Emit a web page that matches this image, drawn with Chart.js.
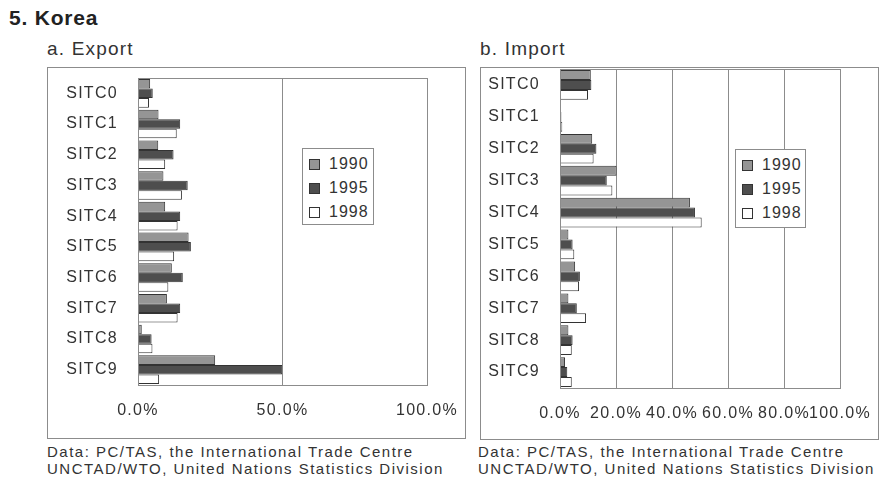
<!DOCTYPE html>
<html>
<head>
    <title>Korea SITC</title>
    <script src="https://cdn.jsdelivr.net/npm/chart.js"></script>
    <style>
        body { margin: 0; background: #fff; font-family: "Liberation Sans", Arial, sans-serif; color: #222; }
        #page { position: relative; width: 882px; height: 488px; overflow: hidden; }
        .title { position: absolute; left: 9px; top: 6px; font-size: 21px; font-weight: bold; letter-spacing: 0.8px; }
        .sub { position: absolute; top: 38px; font-size: 19px; letter-spacing: 1.2px; color: #333; }
        .frame { position: absolute; border: 1px solid #8c8c8c; box-sizing: border-box; }
        .panel { position: absolute; }
        .legend { position: absolute; background: #fff; border: 1px solid #8c8c8c; box-sizing: border-box; padding-top: 3px; }
        .legend div { height: 24px; line-height: 24px; font-size: 16px; letter-spacing: 1px; color: #333; white-space: nowrap; }
        .legend span { display: inline-block; width: 9px; height: 9px; border: 1px solid #333; margin: 0 9px 0 6px; vertical-align: -1px; }
        .note { position: absolute; top: 443px; font-size: 15px; line-height: 17px; letter-spacing: 1.5px; color: #333; white-space: nowrap; }
    </style>
</head>
<body>
<div id="page">
    <div class="title">5. Korea</div>
    <div class="sub" style="left:47px">a. Export</div>
    <div class="sub" style="left:480px">b. Import</div>

    <div class="frame" style="left:47px; top:67px; width:419px; height:372px"></div>
    <div class="frame" style="left:480px; top:67px; width:399px; height:373px"></div>

    <div class="panel" style="left:47px; top:68px; width:418px; height:370px"><canvas id="exportChart"></canvas></div>
    <div class="panel" style="left:481px; top:68px; width:397px; height:371px"><canvas id="importChart"></canvas></div>

    <div class="legend" id="exportLegend" style="left:302px; top:148px; width:72px; height:77px"></div>
    <div class="legend" id="importLegend" style="left:735px; top:149px; width:71px; height:79px"></div>

    <div class="note" style="left:47px">Data: PC/TAS, the International Trade Centre<br>UNCTAD/WTO, United Nations Statistics Division</div>
    <div class="note" style="left:478px">Data: PC/TAS, the International Trade Centre<br>UNCTAD/WTO, United Nations Statistics Division</div>
</div>

<script>
    var categories = ['SITC0', 'SITC1', 'SITC2', 'SITC3', 'SITC4', 'SITC5', 'SITC6', 'SITC7', 'SITC8', 'SITC9'];
    var years = ['1990', '1995', '1998'];

    // shares in percent
    var export1990 = [4.2, 7.1, 7.0, 8.8, 9.4, 17.5, 11.7, 10.0, 1.3, 26.7];
    var export1995 = [5.1, 14.6, 12.3, 17.2, 14.6, 18.3, 15.5, 14.6, 4.7, 49.9];
    var export1998 = [3.8, 13.4, 9.4, 15.2, 13.7, 12.5, 10.5, 13.7, 5.0, 7.3];

    var import1990 = [11.0, 0.3, 11.5, 20.2, 46.4, 3.0, 5.4, 3.0, 3.0, 1.8];
    var import1995 = [11.2, 0.5, 13.0, 16.7, 48.2, 4.5, 7.1, 6.0, 4.5, 2.6];
    var import1998 = [10.0, 0.8, 12.0, 18.7, 50.6, 5.1, 6.8, 9.3, 4.2, 4.2];

    var fills = ['#959595', '#4e4e4e', '#ffffff'];

    Chart.defaults.font.family = '"Liberation Sans", Arial, sans-serif';
    Chart.defaults.font.size = 16;
    Chart.defaults.color = '#333';

    // grey box round the plot area, plus letter spacing for the canvas text
    var framePlugin = {
        id: 'frame',
        beforeLayout: function(chart) { chart.ctx.letterSpacing = '1.3px'; },
        beforeDraw: function(chart) { chart.ctx.letterSpacing = '1.3px'; },
        afterDatasetsDraw: function(chart) {
            var a = chart.chartArea, ctx = chart.ctx;
            ctx.save();
            ctx.strokeStyle = '#8c8c8c';
            ctx.lineWidth = 1;
            ctx.strokeRect(Math.round(a.left) + 0.5, Math.round(a.top) + 0.5, Math.round(a.right - a.left), Math.round(a.bottom - a.top));
            ctx.restore();
        }
    };

    function makeChart(id, series, step, pad, yWidth, xHeight) {
        var ctx = document.getElementById(id).getContext('2d');
        return new Chart(ctx, {
            type: 'bar',
            data: {
                labels: categories,
                datasets: series.map(function(s, i) {
                    return {label: years[i], data: s, backgroundColor: fills[i], borderColor: '#333', borderWidth: 1,
                            categoryPercentage: 0.93, barPercentage: 1.0};
                })
            },
            options: {
                indexAxis: 'y',
                responsive: true,
                maintainAspectRatio: false,
                animation: false,
                layout: {padding: pad},
                plugins: {legend: {display: false}, tooltip: {enabled: false}},
                scales: {
                    x: {
                        min: 0, max: 100,
                        ticks: {stepSize: step, padding: 16, maxRotation: 0, minRotation: 0, autoSkip: false,
                                callback: function(v) { return v.toFixed(1) + '%'; }},
                        grid: {color: '#8c8c8c', drawTicks: false},
                        border: {display: false},
                        afterFit: function(s) { s.height = xHeight; s.paddingLeft = 0; s.paddingRight = 0; }
                    },
                    y: {
                        ticks: {padding: 20},
                        grid: {display: false, drawTicks: false},
                        border: {display: false},
                        afterFit: function(s) { s.width = yWidth; s.paddingTop = 0; s.paddingBottom = 0; }
                    }
                }
            },
            plugins: [framePlugin]
        });
    }

    makeChart('exportChart', [export1990, export1995, export1998], 50, {top: 10, right: 38, left: 0, bottom: 0}, 91, 53);
    makeChart('importChart', [import1990, import1995, import1998], 20, {top: 1, right: 38, left: 0, bottom: 0}, 79, 51);

    function buildLegend(elId) {
        var el = document.getElementById(elId);
        years.forEach(function(y, i) {
            var row = document.createElement('div');
            row.innerHTML = '<span style="background:' + fills[i] + '"></span>' + y;
            el.appendChild(row);
        });
    }
    buildLegend('exportLegend');
    buildLegend('importLegend');
</script>
</body>
</html>
